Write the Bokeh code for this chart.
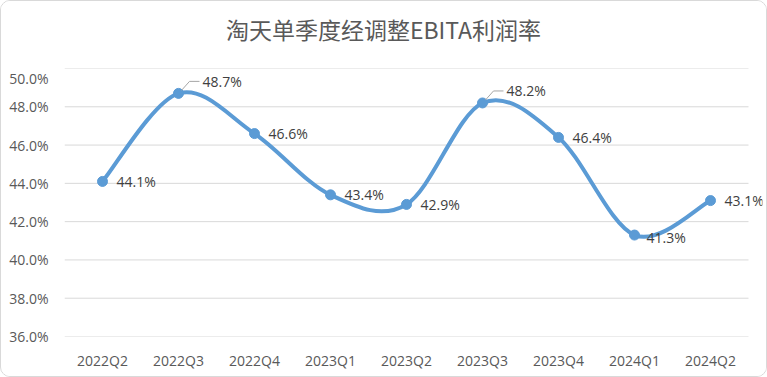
from bokeh.plotting import figure
from bokeh.layouts import column
from bokeh.models import Range1d, FixedTicker, PrintfTickFormatter, ColumnDataSource, LabelSet, Div
from bokeh.core.properties import value
from bokeh.embed import file_html
from bokeh.resources import INLINE

title = "淘天单季度经调整EBITA利润率"
quarters = ["2022Q2", "2022Q3", "2022Q4", "2023Q1", "2023Q2", "2023Q3", "2023Q4", "2024Q1", "2024Q2"]
margin = [44.1, 48.7, 46.6, 43.4, 42.9, 48.2, 46.4, 41.3, 43.1]
y_ticks = [36, 38, 40, 42, 44, 46, 48, 50]

BLUE = "#5b9bd5"
GREY = "#595959"
FONT = "Open Sans"

W = 765                 # inner width (1px border on each side)
TH = 67                 # title block height
PH = 308                # plot height
L, B, R = 63, 40, 4
cat_w = 684             # width of the category area in px
fw, fh = W - L - R, PH - B
ymin, ymax = 36, 50
nx = len(quarters)
x_end = nx * fw / cat_w

head = Div(text=title, width=W, height=TH, margin=0,
           styles={"font-family": "Noto Sans CJK SC", "font-size": "23px", "color": GREY,
                   "text-align": "center", "line-height": "56px", "background": "white",
                   "overflow": "hidden"})

p = figure(width=W, height=PH, output_backend="svg", toolbar_location=None,
           x_range=Range1d(0, x_end), y_range=Range1d(ymin, ymax),
           min_border_left=L, min_border_right=R, min_border_top=0, min_border_bottom=B)
p.margin = 0
p.outline_line_color = None
p.background_fill_color = "white"
p.border_fill_color = "white"

xs = [i + 0.5 for i in range(nx)]

# axes
p.xaxis.ticker = FixedTicker(ticks=xs)
p.xaxis.major_label_overrides = {x: q for x, q in zip(xs, quarters)}
p.xaxis.axis_line_color = None
p.xaxis.major_tick_line_color = None
p.xaxis.minor_tick_line_color = None
p.xaxis.major_label_text_font = FONT
p.xaxis.major_label_text_font_size = "14px"
p.xaxis.major_label_text_color = GREY
p.xaxis.major_label_standoff = 8
p.xgrid.grid_line_color = None

p.yaxis.ticker = FixedTicker(ticks=y_ticks)
p.yaxis.formatter = PrintfTickFormatter(format="%.1f%%")
p.yaxis.axis_line_color = None
p.yaxis.major_tick_line_color = None
p.yaxis.minor_tick_line_color = None
p.yaxis.major_label_text_font = FONT
p.yaxis.major_label_text_font_size = "14px"
p.yaxis.major_label_text_color = GREY
p.yaxis.major_label_standoff = 10
p.ygrid.grid_line_color = None

# gridlines across the category area only
p.segment(x0=[0] * len(y_ticks), x1=[nx] * len(y_ticks), y0=y_ticks, y1=y_ticks,
          line_color="#d9d9d9", line_width=1)

# smoothed line (Catmull-Rom as cubic Bezier segments)
pts = list(zip(xs, margin))
x0, y0, x1, y1, cx0, cy0, cx1, cy1 = [], [], [], [], [], [], [], []
for i in range(nx - 1):
    pm = pts[max(i - 1, 0)]
    pa = pts[i]
    pb = pts[i + 1]
    pn = pts[min(i + 2, nx - 1)]
    x0.append(pa[0]); y0.append(pa[1]); x1.append(pb[0]); y1.append(pb[1])
    cx0.append(pa[0] + (pb[0] - pm[0]) / 6); cy0.append(pa[1] + (pb[1] - pm[1]) / 6)
    cx1.append(pb[0] - (pn[0] - pa[0]) / 6); cy1.append(pb[1] - (pn[1] - pa[1]) / 6)
p.bezier(x0=x0, y0=y0, x1=x1, y1=y1, cx0=cx0, cy0=cy0, cx1=cx1, cy1=cy1,
         line_color=BLUE, line_width=4, line_cap="round")

p.scatter(xs, margin, size=10, fill_color=BLUE, line_color=BLUE)

# data labels
px_x = nx / cat_w
px_y = (ymax - ymin) / fh
lead = {1, 5}
lab_x, lab_y, lab_t = [], [], []
for i, (x, v) in enumerate(zip(xs, margin)):
    if i in lead:
        lx, ly = x + 24 * px_x, v + 12 * px_y
        p.line([x + 3 * px_x, x + 11 * px_x, x + 21 * px_x],
               [v + 3 * px_y, ly, ly], line_color="#a6a6a6", line_width=1)
    elif i == 7:
        lx, ly = x + 12 * px_x, v - 2 * px_y
    else:
        lx, ly = x + 14 * px_x, v
    lab_x.append(lx); lab_y.append(ly); lab_t.append(f"{v:.1f}%")
src = ColumnDataSource(dict(x=lab_x, y=lab_y, t=lab_t))
p.add_layout(LabelSet(x="x", y="y", text="t", source=src, text_font=value(FONT),
                      text_font_size=value("14px"), text_color="#404040",
                      text_baseline="middle", text_align="left"))

layout = column(head, p, spacing=0, margin=0,
                styles={"border": "1px solid #d9d9d9", "border-radius": "10px",
                        "background": "white", "overflow": "hidden"})

open("out.html", "w").write(file_html(layout, INLINE))
